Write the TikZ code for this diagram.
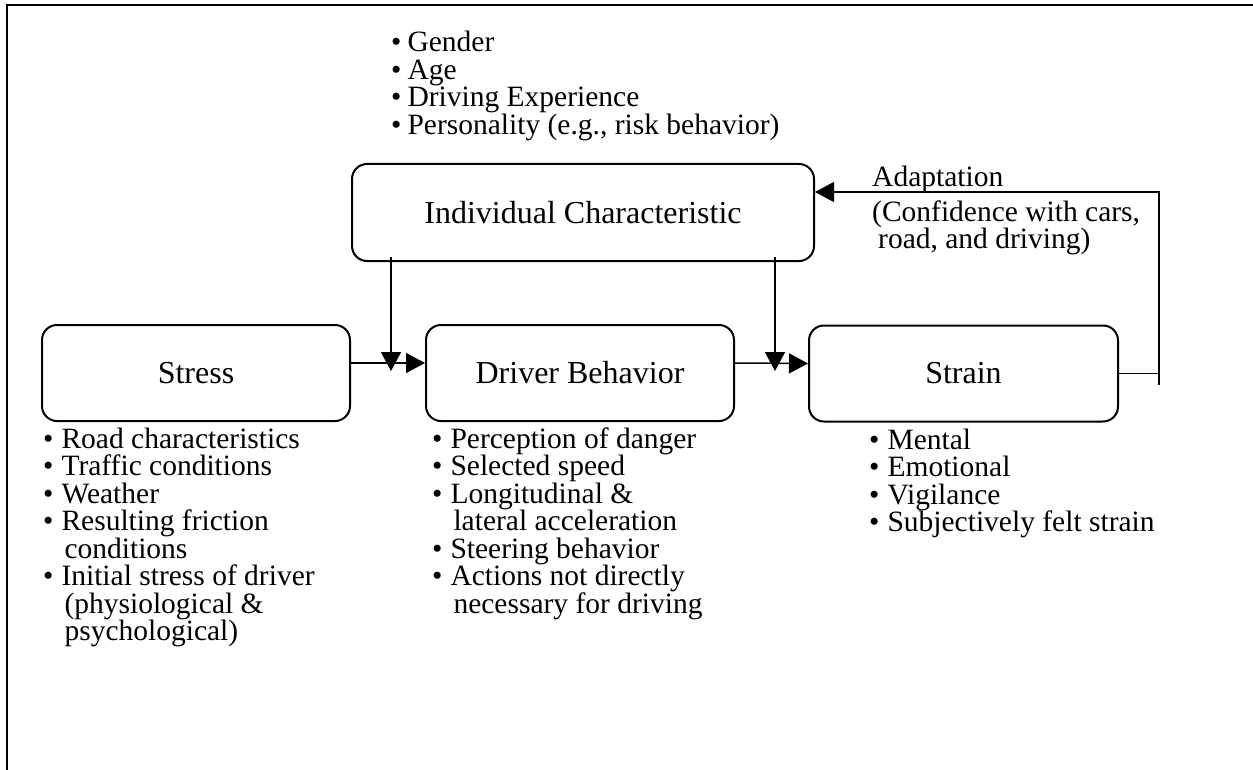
\documentclass[tikz,border=0pt]{standalone}
\usepackage{fontspec}
\setmainfont{Liberation Serif}
\usetikzlibrary{arrows.meta}
\newcommand\bl[1]{\smash{\textbullet\hspace{8pt}#1}}
\newcommand\cl[1]{\smash{\hphantom{\textbullet}\hspace{11pt}#1}}
\newcommand\blt[1]{\smash{\textbullet\hspace{6pt}#1}}
\begin{document}
\begin{tikzpicture}[x=1pt,y=-1pt,
  box/.style={draw, line width=2pt, rounded corners=15pt, inner sep=0pt,
    minimum width=308pt, minimum height=96pt, font=\fontsize{32}{34}\selectfont},
  arr/.style={line width=1.5pt, -{Triangle[length=19pt,width=20pt]}},
  ln/.style={line width=1.5pt},
  lst/.style={anchor=base west, inner sep=0pt, font=\fontsize{29.5}{27.5}\selectfont}]
\useasboundingbox (0,0) rectangle (1253,770);
% frame
\draw[line width=2pt] (7,775) -- (7,5) -- (1260,5);
% boxes
\node[box, minimum width=462pt, minimum height=97pt] (ic) at (583,212.5) {Individual Characteristic};
\node[box] (stress) at (196,373) {Stress};
\node[box] (drv) at (580,373) {Driver Behavior};
\node[box, minimum width=309pt] (strain) at (963.5,373.5) {Strain};
% horizontal arrows
\draw[arr] ([yshift=10pt]stress.east) -- ([yshift=10pt]drv.west);
\draw[arr] ([yshift=10pt]drv.east) -- ([yshift=10pt]strain.west);
% vertical arrows
\coordinate (v1) at (391,371);
\coordinate (v2) at (775,371);
\draw[arr] ([yshift=5pt]v1 |- ic.south) -- (v1);
\draw[arr] ([yshift=5pt]v2 |- ic.south) -- (v2);
% feedback
\coordinate (fbA) at (1159,373.5);
\coordinate (fbB) at (1159,385);
\coordinate (fbC) at (1159,192);
\draw[ln] (strain.east) -- (fbA);
\draw[arr] (fbB) -- (fbC) -- (ic.east |- fbC);
\node[anchor=base west, inner sep=0pt, font=\fontsize{29.5}{27}\selectfont] (adapt) at (872,187)
  {\begin{tabular}[t]{@{}l@{}}\smash{Adaptation}\\[8pt]\smash{(Confidence with cars,}\\\smash{\hspace{6pt}road, and driving)}\end{tabular}};
% lists
\node[lst] (ltop) at (391,52) {\begin{tabular}[t]{@{}l@{}}\blt{Gender}\\\blt{Age}\\\blt{Driving Experience}\\\blt{Personality (e.g., risk behavior)}\end{tabular}};
\node[lst] (lstress) at (43,448) {\begin{tabular}[t]{@{}l@{}}\bl{Road characteristics}\\\bl{Traffic conditions}\\\bl{Weather}\\\bl{Resulting friction}\\\cl{conditions}\\\bl{Initial stress of driver}\\\cl{(physiological \&}\\\cl{psychological)}\end{tabular}};
\node[lst] (ldrv) at (432,448) {\begin{tabular}[t]{@{}l@{}}\bl{Perception of danger}\\\bl{Selected speed}\\\bl{Longitudinal \&}\\\cl{lateral acceleration}\\\bl{Steering behavior}\\\bl{Actions not directly}\\\cl{necessary for driving}\end{tabular}};
\node[lst] (lstrain) at (869,449) {\begin{tabular}[t]{@{}l@{}}\bl{Mental}\\\bl{Emotional}\\\bl{Vigilance}\\\bl{Subjectively felt strain}\end{tabular}};
\end{tikzpicture}
\end{document}
